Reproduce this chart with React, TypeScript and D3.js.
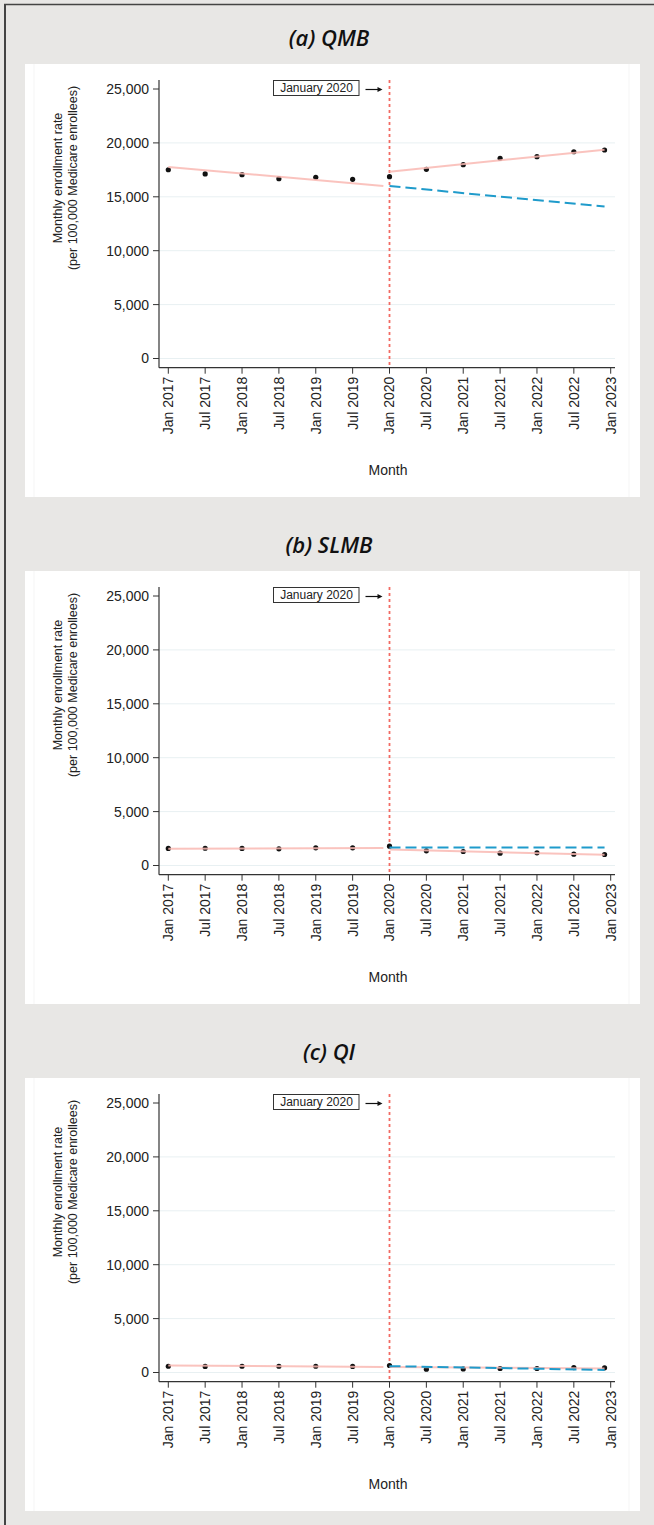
import React from 'react';
import * as d3 from 'd3';

// months since Jan 2017
const tickMonths = [0, 6, 12, 18, 24, 30, 36, 42, 48, 54, 60, 66, 72];
const tickLabels = [
  'Jan 2017', 'Jul 2017', 'Jan 2018', 'Jul 2018', 'Jan 2019', 'Jul 2019', 'Jan 2020',
  'Jul 2020', 'Jan 2021', 'Jul 2021', 'Jan 2022', 'Jul 2022', 'Jan 2023',
];
const yTicks = [0, 5000, 10000, 15000, 20000, 25000];

const pointMonths = [0, 6, 12, 18, 24, 30, 36, 42, 48, 54, 60, 66, 71];
const qmbRates = [17510, 17120, 17050, 16680, 16810, 16620, 16870, 17550, 17980, 18570, 18720, 19180, 19340];
const slmbRates = [1580, 1600, 1580, 1550, 1640, 1640, 1790, 1360, 1300, 1140, 1180, 1050, 1020];
const qiRates = [580, 560, 580, 580, 580, 560, 650, 310, 330, 370, 370, 460, 430];

// fitted segments: [value at start, value at end]
const preMonths = [0, 35];
const postMonths = [36, 71];
const qmbPre = [17760, 16000];
const qmbPost = [17330, 19370];
const qmbCounterfactual = [16000, 14090];
const slmbPre = [1560, 1620];
const slmbPost = [1480, 990];
const slmbCounterfactual = [1680, 1660];
const qiPre = [650, 520];
const qiPost = [520, 370];
const qiCounterfactual = [590, 240];

const panels = [
  { title: '(a) QMB', rates: qmbRates, pre: qmbPre, post: qmbPost, cf: qmbCounterfactual },
  { title: '(b) SLMB', rates: slmbRates, pre: slmbPre, post: slmbPost, cf: slmbCounterfactual },
  { title: '(c) QI', rates: qiRates, pre: qiPre, post: qiPost, cf: qiCounterfactual },
];

const FONT = '"Liberation Sans", Arial, Helvetica, sans-serif';
const PANEL_STEP = 507;

function Panel({ panel, offset }: { panel: typeof panels[number]; offset: number }) {
  const x = d3.scaleLinear().domain([0, 72]).range([168.3, 610.7]);
  const y = d3.scaleLinear().domain([0, 25000]).range([358.5, 89]);
  const axisY = 367.7;
  const axisX = 159;
  const line = d3.line<[number, number]>().x(d => x(d[0])).y(d => y(d[1]));
  const seg = (months: number[], vals: number[]) =>
    line(months.map((m, i) => [m, vals[i]] as [number, number])) as string;
  const cut = x(36);

  return (
    <g transform={`translate(0,${offset})`}>
      <text x={329} y={46} textAnchor="middle" fontFamily='"Open Sans", sans-serif'
        fontStyle="italic" fontWeight={600} fontSize={22} fill="#111">{panel.title}</text>
      <rect x={25} y={64} width={615} height={433} fill="#fff" />
      <line x1={34} x2={34} y1={64} y2={497} stroke="#f5f5f5" />
      <line x1={629} x2={629} y1={64} y2={497} stroke="#f5f5f5" />

      {yTicks.filter(t => t < 25000).map(t => (
        <line key={t} x1={axisX} x2={615} y1={y(t)} y2={y(t)} stroke="#e8f0f2" strokeWidth={1} />
      ))}

      {/* axes */}
      <line x1={axisX} x2={axisX} y1={80} y2={axisY} stroke="#333" strokeWidth={1.2} />
      <line x1={axisX} x2={615} y1={axisY} y2={axisY} stroke="#333" strokeWidth={1.2} />
      {yTicks.map(t => (
        <g key={t}>
          <line x1={axisX - 6} x2={axisX} y1={y(t)} y2={y(t)} stroke="#333" />
          <text x={axisX - 10} y={y(t)} dy="0.35em" textAnchor="end" fontFamily={FONT}
            fontSize={14} fill="#222">{d3.format(',')(t)}</text>
        </g>
      ))}
      {tickMonths.map((m, i) => (
        <g key={m}>
          <line x1={x(m)} x2={x(m)} y1={axisY} y2={axisY + 6} stroke="#333" />
          <text transform={`translate(${x(m)},${axisY + 9}) rotate(-90)`} dy="0.35em"
            textAnchor="end" fontFamily={FONT} fontSize={14} fill="#222">{tickLabels[i]}</text>
        </g>
      ))}
      <text x={388} y={475} textAnchor="middle" fontFamily={FONT} fontSize={14} fill="#222">Month</text>
      <text transform="translate(62,178) rotate(-90)" textAnchor="middle" fontFamily={FONT}
        fontSize={12.5} fill="#222">Monthly enrollment rate</text>
      <text transform="translate(77,178) rotate(-90)" textAnchor="middle" fontFamily={FONT}
        fontSize={12.5} fill="#222">(per 100,000 Medicare enrollees)</text>

      {/* January 2020 marker */}
      <line x1={cut} x2={cut} y1={80} y2={axisY} stroke="#f26b63" strokeWidth={1.8} strokeDasharray="3,3" />
      <rect x={cut - 116} y={80.5} width={85.5} height={15} fill="#fff" stroke="#333" strokeWidth={1} />
      <text x={cut - 73} y={88} dy="0.35em" textAnchor="middle" fontFamily={FONT} fontSize={12}
        fill="#222">January 2020</text>
      <line x1={cut - 24} x2={cut - 9} y1={89.5} y2={89.5} stroke="#111" strokeWidth={1.2} />
      <path d={`M${cut - 7},89.5 L${cut - 12},87 L${cut - 12},92 Z`} fill="#111" />

      {/* points */}
      {panel.rates.map((v, i) => (
        <circle key={i} cx={x(pointMonths[i])} cy={y(v)} r={2.6} fill="#111" />
      ))}

      {/* fitted lines */}
      <path d={seg(preMonths, panel.pre)} fill="none" stroke="#f9b9b3" strokeWidth={2} strokeOpacity={0.85} />
      <path d={seg(postMonths, panel.post)} fill="none" stroke="#f9b9b3" strokeWidth={2} strokeOpacity={0.85} />
      <path d={seg(postMonths, panel.cf)} fill="none" stroke="#1f9bcb" strokeWidth={2}
        strokeDasharray="11,5" />
    </g>
  );
}

export default function App() {
  return (
    <svg width={654} height={1525} style={{ position: 'absolute', left: 0, top: 0 }}>
      <rect x={0} y={0} width={654} height={1525} fill="#e8e7e5" />
      <line x1={5} x2={5} y1={4} y2={1525} stroke="#444" strokeWidth={2} />
      <line x1={4} x2={654} y1={4.5} y2={4.5} stroke="#444" strokeWidth={1.5} />
      {panels.map((p, i) => (
        <Panel key={p.title} panel={p} offset={i * PANEL_STEP} />
      ))}
    </svg>
  );
}
